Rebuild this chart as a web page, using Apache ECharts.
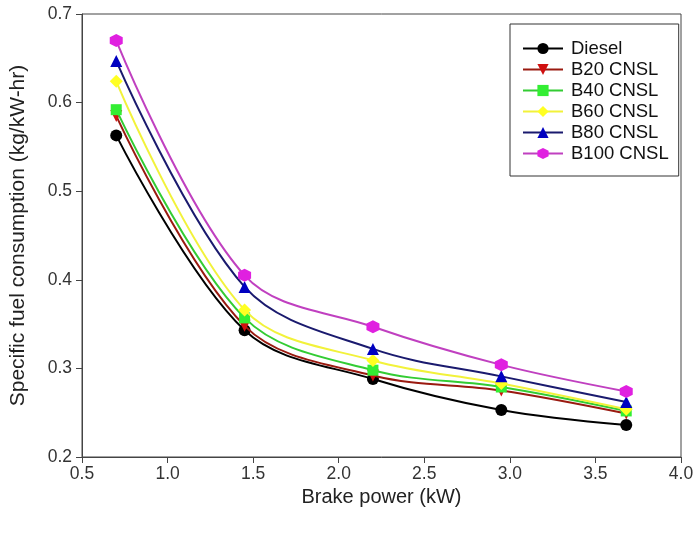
<!DOCTYPE html>
<html><head><meta charset="utf-8">
<script src="https://cdn.jsdelivr.net/npm/echarts@6/dist/echarts.min.js"></script>
<style>html,body{margin:0;padding:0;background:#fff}#c{width:695px;height:537px}</style>
</head><body><div id="c"></div>
<script>
const brakePower = [0.70, 1.45, 2.20, 2.95, 3.68];
const seriesNames = ['Diesel','B20 CNSL','B40 CNSL','B60 CNSL','B80 CNSL','B100 CNSL'];
const diesel = [0.563, 0.343, 0.288, 0.253, 0.236];
const b20 = [0.585, 0.348, 0.292, 0.275, 0.249];
const b40 = [0.592, 0.357, 0.298, 0.279, 0.252];
const b60 = [0.624, 0.366, 0.309, 0.283, 0.254];
const b80 = [0.647, 0.392, 0.322, 0.291, 0.262];
const b100 = [0.670, 0.405, 0.347, 0.304, 0.274];
const xTicks = [0.5,1.0,1.5,2.0,2.5,3.0,3.5,4.0];
const yTicks = [0.2,0.3,0.4,0.5,0.6,0.7];

const values = [diesel,b20,b40,b60,b80,b100];
const lineColors = ['#000000','#9a1a10','#33cc33','#f2f23a','#1a1a6e','#c040c0'];
const markColors = ['#000000','#d01010','#33ee33','#ffff22','#0000c0','#e020e0'];
const symbols = ['circle','triangle','rect','diamond','triangle','path://M0.5,0 L1,0.25 L1,0.75 L0.5,1 L0,0.75 L0,0.25 Z'];
const rotates = [0,180,0,0,0,0];
const sizes = [12,12,11,13,12,13];

const chart = echarts.init(document.getElementById('c'), null, {renderer:'canvas'});
const series = seriesNames.map((n,i)=>({
  name:n, type:'line', smooth:0.35,
  data: brakePower.map((x,j)=>[x, values[i][j]]),
  symbol:symbols[i], symbolRotate:rotates[i], symbolSize:sizes[i],
  lineStyle:{color:lineColors[i], width:2},
  itemStyle:{color:markColors[i], borderWidth:0},
  z: 2+i
}));
chart.setOption({
  animation:false,
  backgroundColor:'#fff',
  textStyle:{fontFamily:'Liberation Sans, Arial, sans-serif'},
  grid:{left:82, right:14, top:14, bottom:80, show:true, borderColor:'#444', borderWidth:1,
        containLabel:false, outerBoundsMode:'none'},
  legend:{
    orient:'vertical', left:510, top:24,
    padding:[15,10,13,12], itemGap:2, itemWidth:40, itemHeight:14,
    borderColor:'#333', borderWidth:1, backgroundColor:'#fff',
    textStyle:{fontSize:18.5, lineHeight:18, color:'#111', fontFamily:'Liberation Sans, Arial, sans-serif', padding:[0,0,0,3]},
    data: seriesNames
  },
  xAxis:{
    type:'value', min:0.5, max:4.0, interval:0.5,
    name:'Brake power (kW)', nameLocation:'middle', nameGap:26,
    nameTextStyle:{fontSize:20, color:'#222'},
    axisLine:{show:true, lineStyle:{color:'#444'}},
    axisTick:{show:true, length:6, lineStyle:{color:'#444'}},
    splitLine:{show:false},
    axisLabel:{fontSize:17.5, color:'#333', margin:8, formatter:v=>v.toFixed(1)}
  },
  yAxis:{
    type:'value', min:0.2, max:0.7, interval:0.1,
    name:'Specific fuel consumption (kg/kW-hr)', nameLocation:'middle', nameGap:53,
    nameTextStyle:{fontSize:21, color:'#222'},
    axisLine:{show:true, lineStyle:{color:'#444'}},
    axisTick:{show:true, length:6, lineStyle:{color:'#444'}},
    splitLine:{show:false},
    axisLabel:{fontSize:17.5, color:'#333', margin:10, formatter:v=>v.toFixed(1)}
  },
  series: series
});
</script></body></html>
